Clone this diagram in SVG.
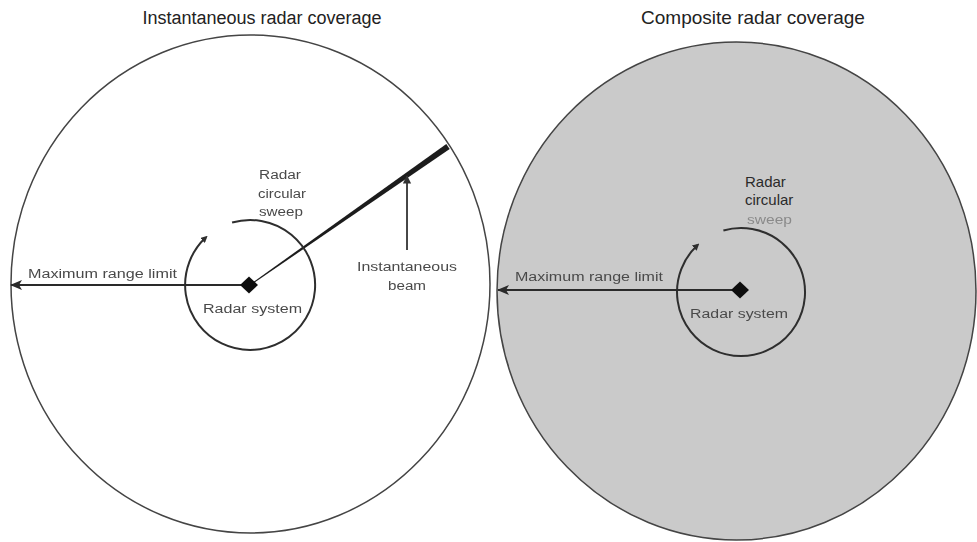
<svg xmlns="http://www.w3.org/2000/svg" width="977" height="542" viewBox="0 0 977 542">
  <defs>
    <style>
      .title { font-family: "Liberation Sans", Arial, sans-serif; font-size: 18px; fill: #222; }
      .title-r { font-size: 19px; }
      .lbl { font-family: "Liberation Sans", Arial, sans-serif; font-size: 12.5px; fill: #4a4a4a; }
      .lbl-crisp { font-family: "Liberation Sans", Arial, sans-serif; font-size: 15px; fill: #2a2a2a; }
      .faint { fill: #8a8a8a; }
      .outer { stroke: #444; stroke-width: 1.5; }
      .sweep { fill: none; stroke: #2e2e2e; stroke-width: 2; }
      .range { fill: none; stroke: #2a2a2a; stroke-width: 2; }
      .pointer { fill: none; stroke: #333; stroke-width: 1.8; }
      .diamond { fill: #111; }
    </style>
    <marker id="headLeft" viewBox="0 0 12 10" refX="11" refY="5" markerWidth="12" markerHeight="10" markerUnits="userSpaceOnUse" orient="auto">
      <path d="M0,0 L12,5 L0,10 L3,5 z" fill="#2a2a2a"/>
    </marker>
    <marker id="headUp" viewBox="0 0 10 12" refX="9" refY="5" markerWidth="12" markerHeight="10" markerUnits="userSpaceOnUse" orient="auto">
      <path d="M0,0 L10,5 L0,10 z" fill="#333"/>
    </marker>
    <marker id="sweepHead" viewBox="0 0 8 8" refX="5" refY="4" markerWidth="7" markerHeight="7" markerUnits="userSpaceOnUse" orient="auto">
      <path d="M0,0 L8,4 L0,8 z" fill="#2e2e2e"/>
    </marker>
    <filter id="soft" x="-5%" y="-5%" width="110%" height="110%">
      <feGaussianBlur stdDeviation="0.5"/>
    </filter>
  </defs>

  <!-- Titles -->
  <text class="title" x="262" y="24" text-anchor="middle">Instantaneous radar coverage</text>
  <text class="title title-r" x="753" y="24" text-anchor="middle">Composite radar coverage</text>

  <!-- Left panel: instantaneous coverage -->
  <g id="instant-coverage" filter="url(#soft)">
    <ellipse class="outer" cx="250.5" cy="284" rx="239.5" ry="249" fill="#ffffff"/>
  </g>

  <!-- Right panel: composite coverage -->
  <g id="composite-coverage" filter="url(#soft)">
    <ellipse class="outer" cx="736.5" cy="291" rx="239.5" ry="249" fill="#cacaca"/>
  </g>

  <!-- Instantaneous beam wedge -->
  <g id="instant-beam" filter="url(#soft)">
    <polygon points="250.3,285.4 249.7,284.6 446.3,144.0 449.7,149.0" fill="#1c1c1c"/>
  </g>

  <!-- Sweep arcs -->
  <g id="instant-sweep" filter="url(#soft)">
    <path class="sweep" d="M232.1,222.5 A65,65 0 1 1 205.7,237.5" marker-end="url(#sweepHead)"/>
  </g>
  <g id="composite-sweep" filter="url(#soft)">
    <path class="sweep" d="M723.4,230.5 A64,64 0 1 1 697.4,245.2" marker-end="url(#sweepHead)"/>
  </g>

  <!-- Connectors -->
  <g id="connectors" filter="url(#soft)">
    <path class="range" d="M249,285 L11,285" marker-end="url(#headLeft)"/>
    <path class="range" d="M739,290 L498,290" marker-end="url(#headLeft)"/>
    <path class="pointer" d="M407,250 L407,176" marker-end="url(#headUp)"/>
  </g>

  <!-- Radar sites -->
  <g id="instant-radar" filter="url(#soft)">
    <polygon class="diamond" points="249,276.5 258,285 249,293.5 240,285"/>
  </g>
  <g id="composite-radar" filter="url(#soft)">
    <polygon class="diamond" points="740,281.5 749,290 740,298.5 731,290"/>
  </g>

  <!-- Left labels -->
  <g id="instant-labels" filter="url(#soft)">
    <text class="lbl" x="280" y="179" text-anchor="middle" textLength="42" lengthAdjust="spacingAndGlyphs">Radar</text>
    <text class="lbl" x="282" y="198" text-anchor="middle" textLength="48" lengthAdjust="spacingAndGlyphs">circular</text>
    <text class="lbl" x="281" y="216" text-anchor="middle" textLength="44" lengthAdjust="spacingAndGlyphs">sweep</text>
    <text class="lbl" x="28" y="278" textLength="149" lengthAdjust="spacingAndGlyphs">Maximum range limit</text>
    <text class="lbl" x="203" y="313" textLength="99" lengthAdjust="spacingAndGlyphs">Radar system</text>
    <text class="lbl" x="407" y="271" text-anchor="middle" textLength="100" lengthAdjust="spacingAndGlyphs">Instantaneous</text>
    <text class="lbl" x="407" y="290" text-anchor="middle" textLength="38" lengthAdjust="spacingAndGlyphs">beam</text>
  </g>

  <!-- Right labels -->
  <g id="composite-labels">
    <text class="lbl-crisp" x="745" y="187">Radar</text>
    <text class="lbl-crisp" x="745" y="205">circular</text>
    <g filter="url(#soft)">
      <text class="lbl faint" x="747" y="224" textLength="45" lengthAdjust="spacingAndGlyphs">sweep</text>
      <text class="lbl" x="515" y="281" textLength="148" lengthAdjust="spacingAndGlyphs">Maximum range limit</text>
      <text class="lbl" x="690" y="318" textLength="98" lengthAdjust="spacingAndGlyphs">Radar system</text>
    </g>
  </g>
</svg>
